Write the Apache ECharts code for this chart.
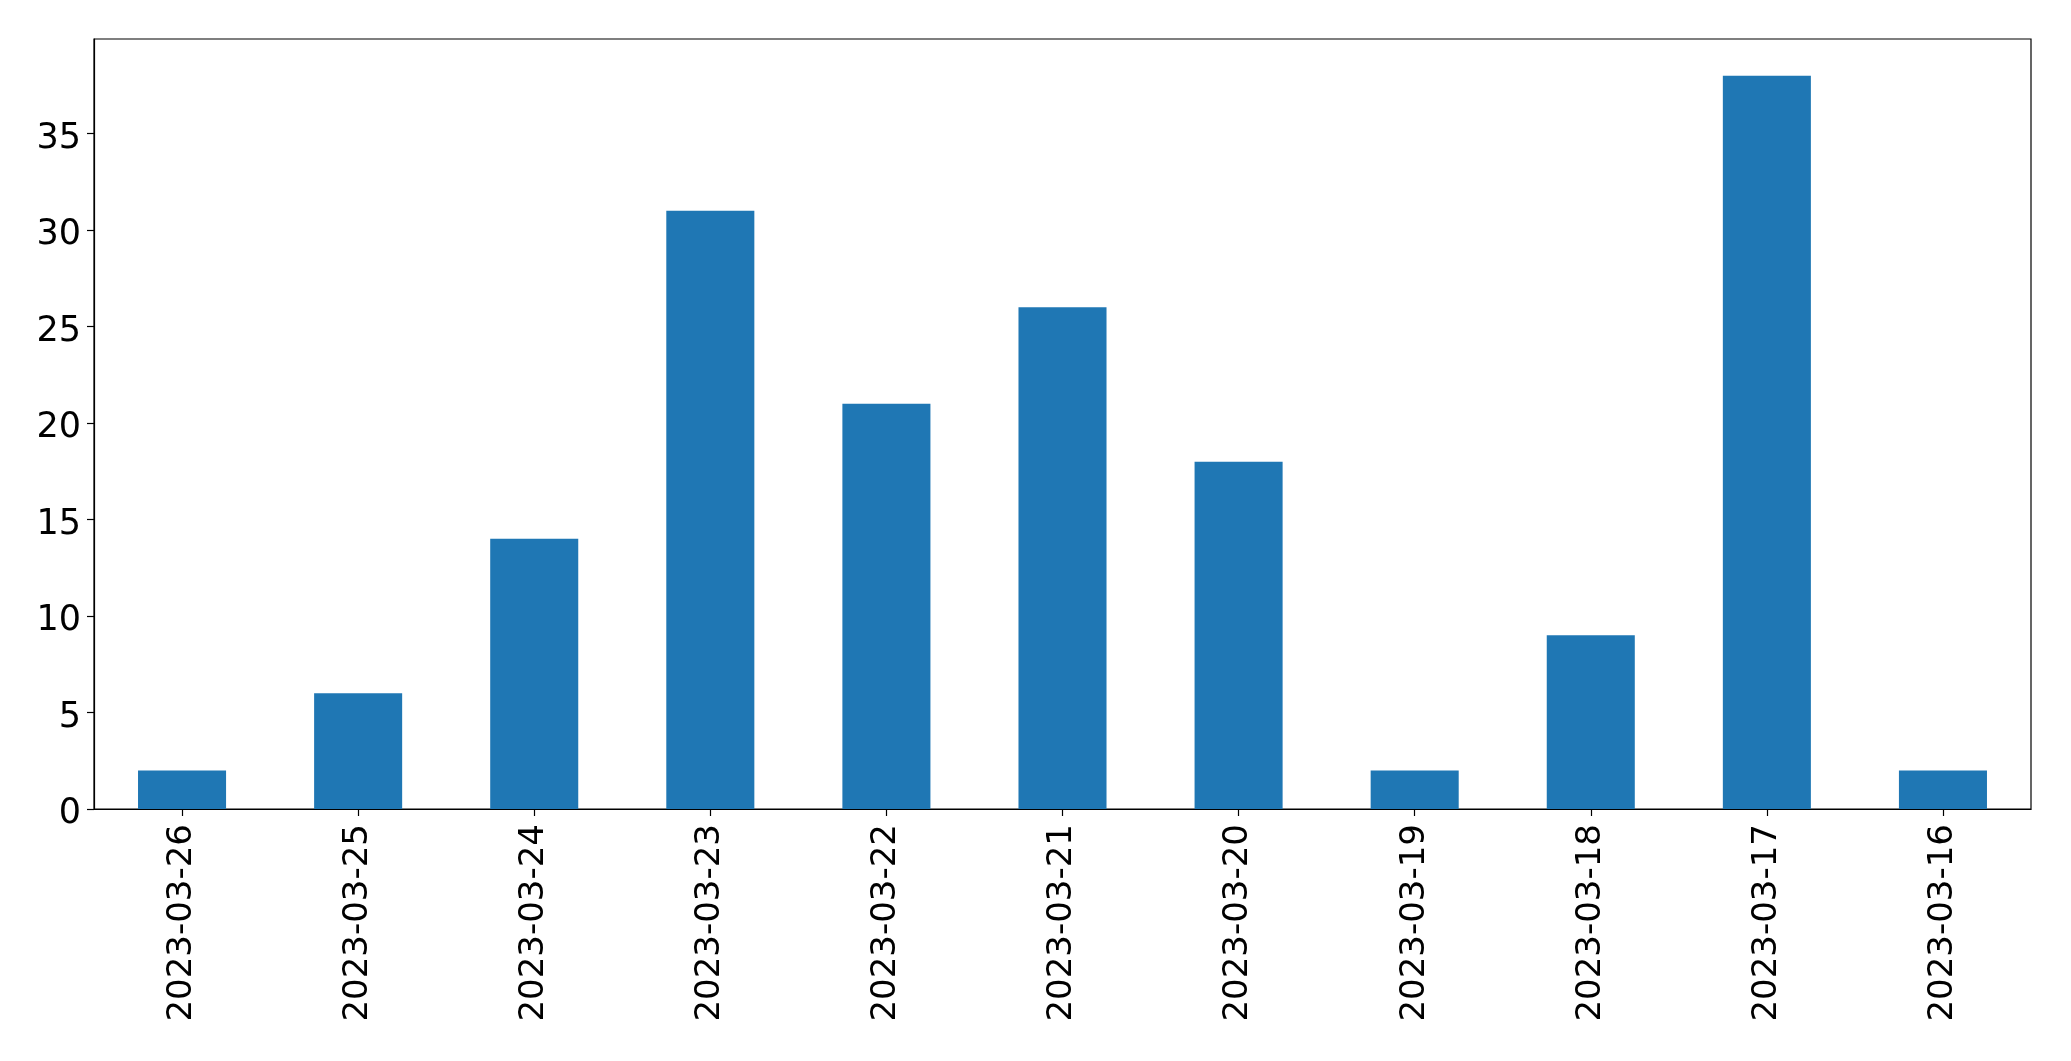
<!DOCTYPE html>
<html>
<head>
<meta charset="utf-8">
<script src="https://cdn.jsdelivr.net/npm/echarts@6/dist/echarts.min.js"></script>
<style>
html,body{margin:0;padding:0;background:#fff;}
#chart{width:2071px;height:1061px;}
</style>
</head>
<body>
<div id="chart"></div>
<script>
const categories = ['2023-03-26','2023-03-25','2023-03-24','2023-03-23','2023-03-22','2023-03-21','2023-03-20','2023-03-19','2023-03-18','2023-03-17','2023-03-16'];
const values = [2, 6, 14, 31, 21, 26, 18, 2, 9, 38, 2];
const yTicks = [0, 5, 10, 15, 20, 25, 30, 35];

const chart = echarts.init(document.getElementById('chart'), null, {renderer: 'canvas'});
chart.setOption({
  animation: false,
  backgroundColor: '#ffffff',
  textStyle: {fontFamily: 'DejaVu Sans'},
  grid: {left: 94, right: 40, top: 39, bottom: 252, containLabel: false,
         show: true, borderColor: '#000', borderWidth: 1.2, backgroundColor: 'transparent'},
  xAxis: {
    type: 'category',
    data: categories,
    boundaryGap: true,
    axisLine: {show: true, lineStyle: {color: '#000', width: 1.2}},
    axisTick: {show: true, alignWithLabel: true, length: 7, lineStyle: {color: '#000', width: 1.2}},
    axisLabel: {rotate: 90, fontSize: 34, color: '#000', margin: 15, fontFamily: 'DejaVu Sans', interval: 0},
    splitLine: {show: false}
  },
  yAxis: {
    type: 'value',
    min: 0, max: 39.9, interval: 5,
    axisLine: {show: true, lineStyle: {color: '#000', width: 1.2}},
    axisTick: {show: true, length: 7, customValues: yTicks, lineStyle: {color: '#000', width: 1.2}},
    axisLabel: {fontSize: 35, color: '#000', margin: 13, fontFamily: 'DejaVu Sans', customValues: yTicks, verticalAlign: 'top', lineHeight: 10},
    splitLine: {show: false}
  },
  series: [{
    type: 'bar',
    data: values,
    barWidth: '50%',
    itemStyle: {color: '#1f77b4'}
  }]
});
</script>
</body>
</html>
